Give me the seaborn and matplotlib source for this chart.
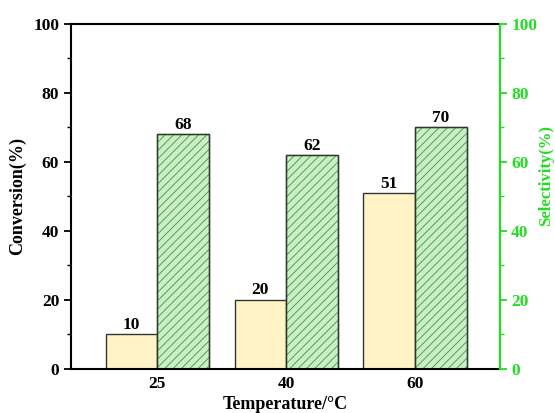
import numpy as np
import pandas as pd
import matplotlib
matplotlib.use("Agg")
import matplotlib.pyplot as plt
from matplotlib.patches import Rectangle
from matplotlib.ticker import MultipleLocator
import seaborn as sns

# ── Data ──────────────────────────────────────────────────────────────────────
temperatures = ["25", "40", "60"]
conversion   = [10, 20, 51]
selectivity  = [68, 62, 70]

df = pd.DataFrame({
    "Temperature": temperatures * 2,
    "value": conversion + selectivity,
    "metric": ["Conversion"] * 3 + ["Selectivity"] * 3,
})

YELLOW = "#FFF4C6"
GREEN_FILL = "#C8F0C2"
GREEN_AX = "#22DD22"
HATCH = "#5A9A5A"
EDGE = "#333333"

sns.set_theme(style="ticks")
plt.rcParams["font.family"] = ["Liberation Serif", "DejaVu Serif"]
plt.rcParams["font.weight"] = "bold"
plt.rcParams["hatch.linewidth"] = 0.7
plt.rcParams["text.color"] = "black"
plt.rcParams["axes.labelcolor"] = "black"
plt.rcParams["xtick.color"] = "black"
plt.rcParams["ytick.color"] = "black"

fig = plt.figure(figsize=(5.55, 4.13), dpi=100)
ax = fig.add_axes([0.128, 0.107, 0.773, 0.835])

sns.barplot(data=df, x="Temperature", y="value", hue="metric",
            palette=[YELLOW, GREEN_FILL], saturation=1, width=0.8, ax=ax,
            edgecolor=EDGE, linewidth=1.0, legend=False)

# hatch selectivity bars (green hatch, dark outline on top) + value labels
for cont, name in zip(ax.containers, ["Conversion", "Selectivity"]):
    if name == "Selectivity":
        for bar in cont:
            bar.set_hatch("////")
            bar.set_edgecolor(HATCH)
            ax.add_patch(Rectangle(bar.get_xy(), bar.get_width(), bar.get_height(),
                                   fill=False, edgecolor=EDGE, linewidth=1.0, zorder=bar.get_zorder() + 0.1))
    ax.bar_label(cont, fmt="%d", padding=1, fontsize=12.5, fontweight="bold", color="black")

ax.set_xlim(-0.67, 2.66)
ax.set_ylim(0, 100)
ax.yaxis.set_major_locator(MultipleLocator(20))
ax.yaxis.set_minor_locator(MultipleLocator(10))
ax.tick_params(axis="y", which="major", direction="out", length=5, width=1.3, labelsize=12.5)
ax.tick_params(axis="y", which="minor", direction="out", length=3, width=1.0)
ax.tick_params(axis="x", length=0, labelsize=12.5, pad=5)
ax.set_xlabel("Temperature/°C", fontsize=13, fontweight="bold", labelpad=3)
ax.set_ylabel("Conversion(%)", fontsize=13, fontweight="bold", labelpad=5)
for lbl in ax.get_xticklabels() + ax.get_yticklabels():
    lbl.set_fontweight("bold")
for s in ax.spines.values():
    s.set_linewidth(1.5)
    s.set_color("black")

ax2 = ax.twinx()
ax2.set_ylim(0, 100)
ax2.yaxis.set_major_locator(MultipleLocator(20))
ax2.yaxis.set_minor_locator(MultipleLocator(10))
ax2.tick_params(axis="y", which="major", direction="out", length=5, width=1.3,
                colors=GREEN_AX, labelsize=12.5, pad=3)
ax2.tick_params(axis="y", which="minor", direction="out", length=3, width=1.0,
                colors=GREEN_AX)
ax2.set_ylabel("Selectivity(%)", fontsize=12, fontweight="bold", color=GREEN_AX, labelpad=1)
ax2.yaxis.label.set_y(0.56)
for lbl in ax2.get_yticklabels():
    lbl.set_fontweight("bold")
ax2.spines["right"].set_color(GREEN_AX)
ax2.spines["right"].set_linewidth(1.5)
for k in ["left", "top", "bottom"]:
    ax2.spines[k].set_visible(False)

fig.savefig("out.png", dpi=100)
